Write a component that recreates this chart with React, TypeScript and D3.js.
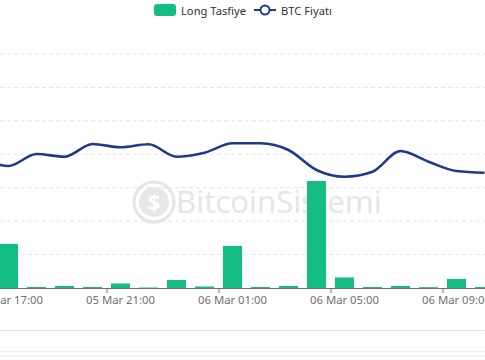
import React from 'react';
import * as d3 from 'd3';

// hourly categories (16:00 sits just off the left edge)
const hours = [
  '05 Mar 16:00', '05 Mar 17:00', '05 Mar 18:00', '05 Mar 19:00', '05 Mar 20:00',
  '05 Mar 21:00', '05 Mar 22:00', '05 Mar 23:00', '06 Mar 00:00', '06 Mar 01:00',
  '06 Mar 02:00', '06 Mar 03:00', '06 Mar 04:00', '06 Mar 05:00', '06 Mar 06:00',
  '06 Mar 07:00', '06 Mar 08:00', '06 Mar 09:00', '06 Mar 10:00'
];
// long liquidations (K$)
const longLiq = [
  0.5, 13.2, 0.3, 0.6, 0.3, 1.35, 0.15, 2.4, 0.45, 12.6,
  0.3, 0.6, 32, 3.15, 0.3, 0.6, 0.25, 2.7, 0.3
];
// BTC price
const btcPrice = [
  87889, 87650, 88009, 87928, 88308, 88209, 88299, 87928, 88048, 88329,
  88329, 88128, 87530, 87330, 87479, 88098, 87778, 87500, 87449
];
const tickLabels = ['05 Mar 17:00', '05 Mar 21:00', '06 Mar 01:00', '06 Mar 05:00', '06 Mar 09:00'];
const liqTicks = [0, 10, 20, 30, 40, 50, 60, 70];

const GREEN = '#14bd82';
const BLUE = '#1e3a8a';
const FONT = '"Noto Sans", sans-serif';

const App = () => {
  const W = 485;
  const H = 360;
  const top = 54;
  const bottom = 288;
  const bandW = 28;

  const x = d3.scaleBand<string>()
    .domain(hours)
    .range([-33.5, -33.5 + bandW * hours.length])
    .padding(0);
  const barW = x.bandwidth() * 0.68;

  const yLiq = d3.scaleLinear().domain([0, 70]).range([bottom, top]);
  const yPrice = d3.scaleLinear().domain([84000, 91000]).range([bottom, top]);

  const line = d3.line<number>()
    .x((_, i) => (x(hours[i]) as number) + x.bandwidth() / 2)
    .y(d => yPrice(d))
    .curve(d3.curveMonotoneX);

  return (
    <div style={{ position: 'fixed', left: 0, top: 0 }}>
      <svg width={W} height={H} style={{ display: 'block', background: '#fff' }}>
        {/* legend */}
        <g fontFamily={FONT} fontSize={11.2} fill="#333">
          <rect x={154} y={4} width={22} height={12} rx={3} fill={GREEN} />
          <text x={181} y={10} dominantBaseline="central">Long Tasfiye</text>
          <line x1={254} x2={276} y1={10} y2={10} stroke={BLUE} strokeWidth={2} />
          <circle cx={265} cy={10} r={4.5} fill="#fff" stroke={BLUE} strokeWidth={2} />
          <text x={281} y={10} dominantBaseline="central">BTC Fiyatı</text>
        </g>

        {/* grid */}
        {liqTicks.slice(1).map(t => (
          <line key={t} x1={0} x2={W} y1={yLiq(t)} y2={yLiq(t)}
            stroke="#e0e3ea" strokeDasharray="4,3" />
        ))}

        {/* watermark */}
        <g opacity={0.9}>
          <circle cx={154} cy={202} r={20} fill="none" stroke="#e3e3e3" strokeWidth={3} />
          <circle cx={154} cy={202} r={15} fill="#e6e6e6" />
          <text x={154} y={210} textAnchor="middle" fontFamily={FONT} fontWeight="bold"
            fontSize={22} fill="#fff">$</text>
          <text x={176} y={213} fontFamily={FONT} fontSize={31} fill="#e4e4e4">BitcoinSistemi</text>
        </g>

        {/* bars */}
        {longLiq.map((v, i) => (
          <rect key={hours[i]}
            x={(x(hours[i]) as number) + (x.bandwidth() - barW) / 2}
            y={yLiq(v)}
            width={barW}
            height={bottom - yLiq(v)}
            fill={GREEN} />
        ))}

        {/* price line */}
        <path d={line(btcPrice) || ''} fill="none" stroke={BLUE} strokeWidth={2.6}
          strokeLinejoin="round" />

        {/* x axis */}
        <line x1={0} x2={W} y1={bottom + 0.5} y2={bottom + 0.5} stroke="#6e7079" />
        {tickLabels.map(l => {
          const bx = x(l) as number;
          return (
            <g key={l}>
              <line x1={bx + 0.5} x2={bx + 0.5} y1={bottom} y2={bottom + 5} stroke="#6e7079" />
              <text x={bx + x.bandwidth() / 2} y={299} textAnchor="middle" dominantBaseline="central"
                fontFamily={FONT} fontSize={11.3} fill="#6e7079">{l}</text>
            </g>
          );
        })}

        {/* data zoom slider */}
        <rect x={-1} y={330.5} width={W + 2} height={25.5} fill="none" stroke="#dfe2ef" />
        <line x1={0} x2={W} y1={351.5} y2={351.5} stroke="#eceef6" />
      </svg>
    </div>
  );
};

export default App;
